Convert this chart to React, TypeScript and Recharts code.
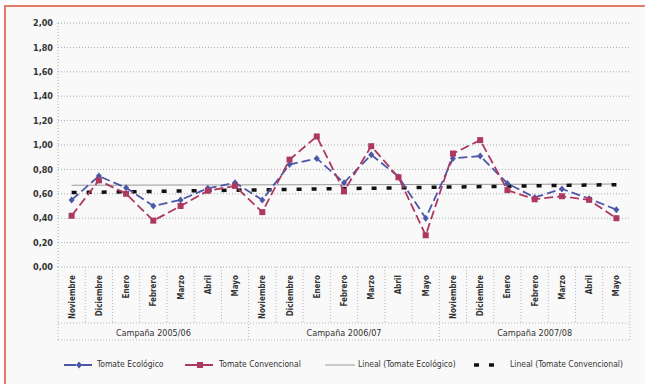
import { CartesianGrid, Line, LineChart, XAxis, YAxis } from "recharts";

const months = ["Noviembre", "Diciembre", "Enero", "Febrero", "Marzo", "Abril", "Mayo"];
const campaigns = ["Campaña 2005/06", "Campaña 2006/07", "Campaña 2007/08"];

const ecologico = [
  0.55, 0.745, 0.65, 0.5, 0.55, 0.645, 0.69,
  0.55, 0.84, 0.89, 0.69, 0.92, 0.74, 0.4,
  0.89, 0.91, 0.685, 0.57, 0.64, 0.56, 0.47,
];
const convencional = [
  0.42, 0.71, 0.6, 0.38, 0.5, 0.625, 0.665,
  0.45, 0.88, 1.07, 0.62, 0.99, 0.735, 0.26,
  0.93, 1.04, 0.63, 0.555, 0.58, 0.55, 0.4,
];
// trend lines: start / end values
const ecoTrend = [0.67, 0.68];
const convTrend = [0.61, 0.675];

const yTicks = [0, 0.2, 0.4, 0.6, 0.8, 1, 1.2, 1.4, 1.6, 1.8, 2];

const data = campaigns.flatMap((campaign, c) =>
  months.map((month, m) => {
    const i = c * months.length + m;
    const last = i === campaigns.length * months.length - 1;
    return {
      month,
      campaign,
      eco: ecologico[i],
      conv: convencional[i],
      ecoT: i === 0 ? ecoTrend[0] : last ? ecoTrend[1] : null,
      convT: i === 0 ? convTrend[0] : last ? convTrend[1] : null,
    };
  })
);

const W = 645;
const H = 384;
const PLOT_LEFT = 58;
const PLOT_RIGHT = 630;
const AXIS_Y = 267;
const GROUP_TOP = 323;
const GROUP_BOTTOM = 340;
const STEP = (PLOT_RIGHT - PLOT_LEFT) / data.length;

const BLUE = "#4c58a6";
const RED = "#ad3860";
const FONT = "'DejaVu Sans Condensed', 'DejaVu Sans', sans-serif";
const SEP = "#b5b5b5";

const MonthTick = (props: any) => {
  const { x, payload, index } = props;
  const left = x - STEP / 2;
  return (
    <g>
      <text
        transform={`translate(${x + 3},${AXIS_Y + 8}) rotate(-90)`}
        textAnchor="end"
        fontSize={8}
        fontWeight="bold"
        fontFamily={FONT}
        fill="#333"
      >
        {payload.value}
      </text>
      <line
        x1={left}
        x2={left}
        y1={AXIS_Y}
        y2={index % 7 === 0 ? GROUP_BOTTOM : GROUP_TOP}
        stroke={SEP}
        strokeDasharray="1 2"
      />
      {index === data.length - 1 && (
        <line x1={x + STEP / 2} x2={x + STEP / 2} y1={AXIS_Y} y2={GROUP_BOTTOM} stroke={SEP} strokeDasharray="1 2" />
      )}
      {index === 0 && (
        <g>
          <line x1={PLOT_LEFT} x2={PLOT_RIGHT} y1={GROUP_TOP} y2={GROUP_TOP} stroke={SEP} strokeDasharray="1 2" />
          <line x1={PLOT_LEFT} x2={PLOT_RIGHT} y1={GROUP_BOTTOM} y2={GROUP_BOTTOM} stroke={SEP} strokeDasharray="1 2" />
        </g>
      )}
      {index % 7 === 3 && (
        <text x={x} y={GROUP_TOP + 13} textAnchor="middle" fontSize={9} fontFamily={FONT} fill="#333">
          {data[index].campaign}
        </text>
      )}
    </g>
  );
};

const Diamond = (props: any) => {
  const { cx, cy } = props;
  if (cx == null || cy == null) return null;
  return <polygon points={`${cx},${cy - 3.5} ${cx + 3},${cy} ${cx},${cy + 3.5} ${cx - 3},${cy}`} fill={BLUE} />;
};

const Square = (props: any) => {
  const { cx, cy } = props;
  if (cx == null || cy == null) return null;
  return <rect x={cx - 3} y={cy - 3} width={6} height={6} fill={RED} />;
};

const legendText = { fontSize: 8.5, fontFamily: FONT, color: "#333", position: "absolute" as const, top: 359 };

export default function App() {
  return (
    <div style={{ position: "absolute", left: 0, top: 0, width: W, height: H, overflow: "hidden", background: "#fff" }}>
      <div
        style={{
          position: "absolute",
          left: 4,
          top: 5,
          width: 700,
          height: 450,
          border: "2px solid #e27b66",
          background: "#f9f9f9",
        }}
      />
      <div style={{ position: "absolute", left: 0, top: 0 }}>
        <LineChart width={W} height={H} data={data} margin={{ top: 23, right: W - PLOT_RIGHT, left: 0, bottom: H - GROUP_BOTTOM }}>
          <CartesianGrid vertical={false} stroke="#aaa" strokeDasharray="1 2" />
          <XAxis
            dataKey="month"
            interval={0}
            axisLine={false}
            tickLine={false}
            padding={{ left: STEP / 2, right: STEP / 2 }}
            height={GROUP_BOTTOM - AXIS_Y}
            tick={<MonthTick />}
          />
          <YAxis
            width={PLOT_LEFT}
            domain={[0, 2]}
            ticks={yTicks}
            interval={0}
            tickLine={false}
            tickSize={3}
            tickMargin={2}
            axisLine={{ stroke: "#aaa", strokeDasharray: "1 2" }}
            tickFormatter={(v: number) => v.toFixed(2).replace(".", ",")}
            tick={{ fontSize: 9, fontWeight: "bold", fontFamily: FONT, fill: "#333" }}
          />
          <Line
            dataKey="ecoT"
            connectNulls
            stroke="#9a9a9a"
            strokeWidth={1}
            dot={false}
            isAnimationActive={false}
          />
          <Line
            dataKey="convT"
            connectNulls
            stroke="#111"
            strokeWidth={3.5}
            strokeDasharray="5 10"
            dot={false}
            isAnimationActive={false}
          />
          <Line
            dataKey="eco"
            stroke={BLUE}
            strokeWidth={1.8}
            strokeDasharray="9 4"
            dot={<Diamond />}
            isAnimationActive={false}
          />
          <Line
            dataKey="conv"
            stroke={RED}
            strokeWidth={1.8}
            strokeDasharray="9 4"
            dot={<Square />}
            isAnimationActive={false}
          />
        </LineChart>
      </div>
      <svg style={{ position: "absolute", left: 0, top: 355 }} width={W} height={20}>
        <line x1={64} x2={95} y1={10} y2={10} stroke={BLUE} strokeWidth={1.8} strokeDasharray="12 4" />
        <polygon points="79,6.5 82,10 79,13.5 76,10" fill={BLUE} />
        <line x1={185} x2={216} y1={10} y2={10} stroke={RED} strokeWidth={1.8} strokeDasharray="12 4" />
        <rect x={197} y={7} width={6} height={6} fill={RED} />
        <line x1={325} x2={355} y1={10} y2={10} stroke="#9a9a9a" strokeWidth={1} />
        <line x1={474} x2={502} y1={10} y2={10} stroke="#111" strokeWidth={3.5} strokeDasharray="5 10" />
      </svg>
      <div style={{ ...legendText, left: 97 }}>Tomate Ecológico</div>
      <div style={{ ...legendText, left: 219 }}>Tomate Convencional</div>
      <div style={{ ...legendText, left: 358 }}>Lineal (Tomate Ecológico)</div>
      <div style={{ ...legendText, left: 510 }}>Lineal (Tomate Convencional)</div>
    </div>
  );
}
